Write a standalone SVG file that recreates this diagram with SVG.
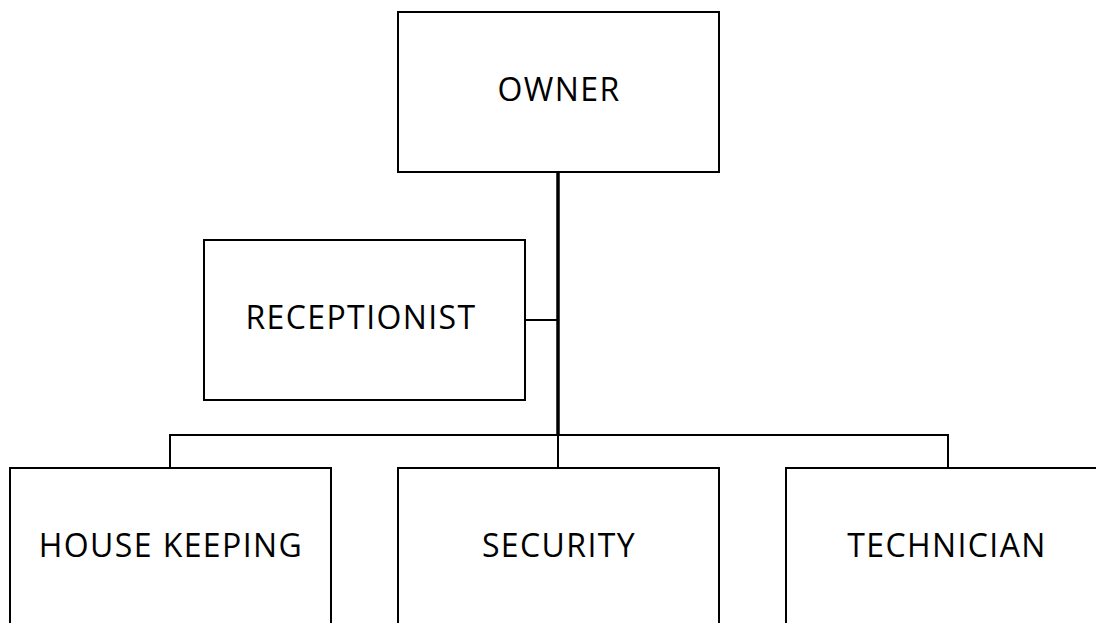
<svg xmlns="http://www.w3.org/2000/svg" width="1096" height="623" viewBox="0 0 1096 623">
<style>
.box{fill:#fff;stroke:#000;stroke-width:2}
.lbl{font-family:"Open Sans","Noto Sans",sans-serif;font-size:32px;letter-spacing:1.4px;fill:#000;text-anchor:middle}
.thin{fill:none;stroke:#000;stroke-width:2}
.thick{fill:none;stroke:#000;stroke-width:3.5}
</style>
<rect width="1096" height="623" fill="#fff"/>
<g id="connectors">
<line class="thick" x1="558" y1="172" x2="558" y2="436"/>
<line class="thin" x1="525" y1="320" x2="558" y2="320"/>
<polyline class="thin" points="170,468 170,435 948,435 948,468"/>
<line class="thin" x1="558" y1="435" x2="558" y2="468"/>
</g>
<g id="owner">
<rect class="box" x="398" y="12" width="321" height="160"/>
<text class="lbl" x="559" y="101">OWNER</text>
</g>
<g id="receptionist">
<rect class="box" x="204" y="240" width="321" height="160"/>
<text class="lbl" x="361" y="329">RECEPTIONIST</text>
</g>
<g id="housekeeping">
<rect class="box" x="10" y="468" width="321" height="170"/>
<text class="lbl" x="171" y="557">HOUSE KEEPING</text>
</g>
<g id="security">
<rect class="box" x="398" y="468" width="321" height="170"/>
<text class="lbl" x="559" y="557">SECURITY</text>
</g>
<g id="technician">
<rect class="box" x="786" y="468" width="321" height="170"/>
<text class="lbl" x="947" y="557">TECHNICIAN</text>
</g>
</svg>
